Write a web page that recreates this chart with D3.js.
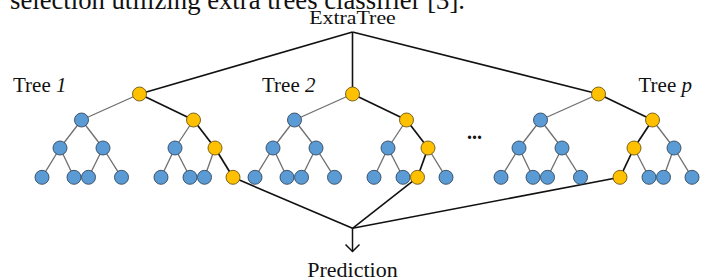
<!DOCTYPE html>
<html>
<head>
<meta charset="utf-8">
<script src="https://cdn.jsdelivr.net/npm/d3@7"></script>
<style>
  html, body { margin: 0; padding: 0; background: #fff; }
  text { font-family: "Liberation Serif", "Times New Roman", serif; fill: #111; }
</style>
</head>
<body>
<div id="chart"></div>
<script>
// text pieces of the figure
var captionText = "selection utilizing extra trees classifier [3].";
var rootLabel = "ExtraTree";
var outputLabel = "Prediction";
var ellipsis = "...";

// the three trees: label word, italic index, slot along the row, chosen branch at each level (0 left, 1 right)
var treeNames = ["Tree", "Tree", "Tree"];
var treeIds = ["1", "2", "p"];
var treeSlots = [0, 1, 2.155];
var treePaths = [[1, 1, 1], [1, 1, 0], [1, 0, 0]];

// horizontal offsets of the nodes of one tree, per level, relative to its root
var levelOffsets = [
    [0],
    [-58, 54],
    [-79.5, -36.5, 35.5, 75.5],
    [-97.5, -65.5, -51, -18, 21.5, 50.5, 65, 93.5]
];
var levels = [0, 1, 2, 3];

var svgwidth = 708, svgheight = 280;
var r = 7;

var svg = d3.select("#chart")
    .append("svg")
    .attr("width", svgwidth)
    .attr("height", svgheight);

// scales
var x = d3.scaleLinear().domain([0, 1]).range([139.5, 352.5]);
var y = d3.scalePoint().domain(levels).range([94, 177.3]);
y = (function(s) { var ys = [94, 120, 148, 177.3]; return function(l) { return ys[l]; }; })(y);

var blue = "#5b9bd5", yellow = "#ffc000";
var apex = {x: x(1), y: 32};
var meet = {x: x(1), y: 228.3};
var arrowTip = 251.5;

// build nodes and edges for every tree
var nodes = [], edges = [], hiLeaves = [];
treeSlots.forEach(function(slot, t) {
    var cx = x(slot);
    var onPath = 0; // index of highlighted node at current level
    levels.forEach(function(l) {
        levelOffsets[l].forEach(function(off, i) {
            var hi = (i == onPath);
            nodes.push({x: cx + off, y: y(l), hi: hi});
            if (l > 0) {
                var p = Math.floor(i / 2);
                edges.push({
                    x1: cx + levelOffsets[l - 1][p], y1: y(l - 1),
                    x2: cx + off, y2: y(l),
                    hi: hi
                });
            }
            if (hi && l == 3) hiLeaves.push({x: cx + off, y: y(l)});
        });
        if (l < 3) onPath = onPath * 2 + treePaths[t][l];
    });
});

// caption cut at the top
svg.append("text")
    .attr("x", 10)
    .attr("y", 9)
    .attr("textLength", 455)
    .attr("lengthAdjust", "spacingAndGlyphs")
    .style("font-size", "26.7px")
    .text(captionText);

// lines from ExtraTree to each root
svg.append("g").selectAll("line")
    .data(treeSlots)
    .enter().append("line")
    .attr("x1", apex.x).attr("y1", apex.y)
    .attr("x2", function(d) { return x(d); })
    .attr("y2", y(0))
    .attr("stroke", "#111")
    .attr("stroke-width", 1.6);

// lines from chosen leaves to the prediction point
svg.append("g").selectAll("line")
    .data(hiLeaves)
    .enter().append("line")
    .attr("x1", function(d) { return d.x; })
    .attr("y1", function(d) { return d.y; })
    .attr("x2", meet.x).attr("y2", meet.y)
    .attr("stroke", "#111")
    .attr("stroke-width", 1.6);

// arrow
svg.append("line")
    .attr("x1", meet.x).attr("y1", meet.y)
    .attr("x2", meet.x).attr("y2", arrowTip)
    .attr("stroke", "#111").attr("stroke-width", 1.5);
svg.append("path")
    .attr("d", "M" + (meet.x - 7) + "," + (arrowTip - 7) + "L" + meet.x + "," + arrowTip + "L" + (meet.x + 7) + "," + (arrowTip - 7))
    .attr("fill", "none")
    .attr("stroke", "#111").attr("stroke-width", 1.5);

// tree edges
svg.append("g").selectAll("line")
    .data(edges)
    .enter().append("line")
    .attr("x1", function(d) { return d.x1; })
    .attr("y1", function(d) { return d.y1; })
    .attr("x2", function(d) { return d.x2; })
    .attr("y2", function(d) { return d.y2; })
    .attr("stroke", function(d) { return d.hi ? "#111" : "#6e6e6e"; })
    .attr("stroke-width", function(d) { return d.hi ? 1.7 : 1.3; });

// nodes
svg.append("g").selectAll("circle")
    .data(nodes)
    .enter().append("circle")
    .attr("cx", function(d) { return d.x; })
    .attr("cy", function(d) { return d.y; })
    .attr("r", r)
    .attr("fill", function(d) { return d.hi ? yellow : blue; })
    .attr("stroke", function(d) { return d.hi ? "#6b5716" : "#34495e"; })
    .attr("stroke-width", 0.9);

// labels
svg.append("text")
    .attr("x", 0).attr("y", 0)
    .attr("transform", "translate(" + apex.x + ",24) scale(1.15,1)")
    .attr("text-anchor", "middle")
    .style("font-size", "19px")
    .text(rootLabel);

var labelX = [13, 262, 638.5];
var treeLabels = svg.append("g").selectAll("text")
    .data(treeNames)
    .enter().append("text")
    .attr("x", function(d, i) { return labelX[i]; })
    .attr("y", 91.5)
    .style("font-size", "21px");
treeLabels.append("tspan").text(function(d) { return d + " "; });
treeLabels.append("tspan")
    .style("font-style", "italic")
    .text(function(d, i) { return treeIds[i]; });

svg.append("text")
    .attr("x", 474.5).attr("y", 138.5)
    .attr("text-anchor", "middle")
    .style("font-size", "20px")
    .style("font-weight", "bold")
    .text(ellipsis);

svg.append("text")
    .attr("x", meet.x).attr("y", 277)
    .attr("text-anchor", "middle")
    .style("font-size", "22px")
    .text(outputLabel);
</script>
</body>
</html>
